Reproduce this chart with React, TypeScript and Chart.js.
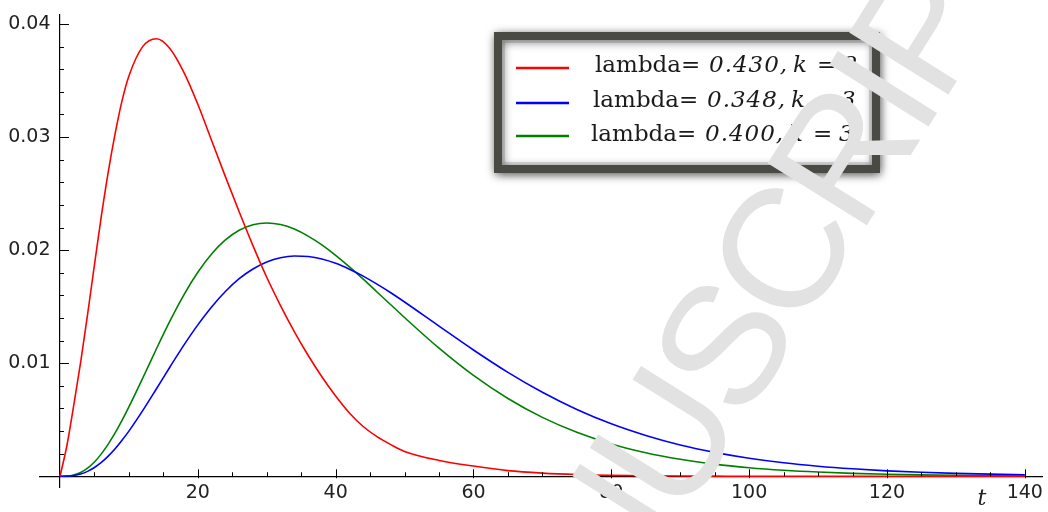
import { useEffect, useRef } from 'react';
import { Chart, registerables } from 'chart.js';

Chart.register(...registerables);

// time axis samples
const tValues = [0, 1, 2, 3, 4, 5, 6, 7, 8, 9, 10, 12, 14, 16, 18, 20, 22, 24, 26, 28, 30, 32, 34, 36, 38, 40, 42, 44, 46, 48, 50, 55, 60, 65, 70, 75, 80, 85, 90, 95, 100, 105, 110, 115, 120, 125, 130, 135, 140];

const redValues = [0, 0.0027, 0.0063, 0.0101, 0.0143, 0.0187, 0.023, 0.0269, 0.0303, 0.0332, 0.0354,
  0.038, 0.0387, 0.0378, 0.0357, 0.0329, 0.0297, 0.0265, 0.0234, 0.0204, 0.0176, 0.0151, 0.0128, 0.0107, 0.0088, 0.0071, 0.0056, 0.0044, 0.0035, 0.0028, 0.0022,
  0.0014, 0.0009, 0.0005, 0.00028, 0.00015, 0.00008, 0.00004, 0.00002, 0.00001, 0, 0, 0, 0, 0, 0, 0, 0, 0];

const blueValues = [0, 0.0000087, 0.000064, 0.000198, 0.000431, 0.000771, 0.00122, 0.00178, 0.00243, 0.00318, 0.00399,
  0.0058, 0.00774, 0.00971, 0.01162, 0.01339, 0.01498, 0.01634, 0.01747, 0.01833, 0.01895, 0.01933, 0.01948, 0.01943, 0.01921, 0.01883, 0.01831, 0.0177, 0.01699, 0.01623, 0.01541,
  0.01328, 0.01117, 0.00919, 0.00743, 0.00591, 0.00464, 0.00361, 0.00277, 0.00211, 0.00159, 0.00119, 0.000889, 0.000658, 0.00048, 0.000354, 0.000258, 0.000187, 0.000135];

const greenValues = [0, 0.0000151, 0.000109, 0.000333, 0.000715, 0.00126, 0.00198, 0.00284, 0.00383, 0.00494, 0.00613,
  0.00867, 0.01128, 0.01378, 0.01607, 0.01804, 0.01966, 0.0209, 0.02176, 0.02225, 0.0224, 0.02226, 0.02186, 0.02124, 0.02046, 0.01954, 0.01852, 0.01743, 0.0163, 0.01517, 0.01404,
  0.01133, 0.00892, 0.00688, 0.00521, 0.00389, 0.00286, 0.00208, 0.0015, 0.00107, 0.000757, 0.000531, 0.00037, 0.000257, 0.000177, 0.000121, 0.0000828, 0.0000562, 0.000038];

const seriesLambdas = ['0.430', '0.348', '0.400'];
const seriesKs = ['2', '3', '3'];
const seriesColors = ['#ff0000', '#0000ff', '#008000'];

const xTickLabels = [20, 40, 60, 80, 100, 120, 140];
const yTickLabels = [0.01, 0.02, 0.03, 0.04];
const xMinorStep = 5;
const yMinorStep = 0.002;
const xAxisTitle = 't';
const watermarkBefore = 'ACCEPTED MAN';
const watermarkAfter = 'USCRIPT';

const decorPlugin = {
  id: 'decor',
  afterDraw(chart: any) {
    const ctx = chart.ctx;
    const xs = chart.scales.x;
    const ys = chart.scales.y;
    const x0 = xs.getPixelForValue(0);
    const y0 = ys.getPixelForValue(0);

    // tick marks
    ctx.save();
    ctx.strokeStyle = '#000';
    ctx.lineWidth = 1;
    for (let v = xMinorStep; v <= 140 + 1e-9; v += xMinorStep) {
      const px = Math.round(xs.getPixelForValue(v)) + 0.5;
      const major = xTickLabels.includes(Math.round(v));
      ctx.beginPath();
      ctx.moveTo(px, y0 + (major ? 2 : 0));
      ctx.lineTo(px, y0 - (major ? 7 : 4));
      ctx.stroke();
    }
    for (let i = 1; i * yMinorStep <= 0.04 + 1e-9; i++) {
      const v = i * yMinorStep;
      const py = Math.round(ys.getPixelForValue(v)) + 0.5;
      const major = i % 5 === 0;
      ctx.beginPath();
      ctx.moveTo(x0, py);
      ctx.lineTo(x0 + (major ? 9 : 4), py);
      ctx.stroke();
    }
    ctx.restore();

    // axis title
    ctx.save();
    ctx.font = 'italic 22px "DejaVu Serif"';
    ctx.fillStyle = '#222';
    ctx.textAlign = 'center';
    ctx.textBaseline = 'alphabetic';
    ctx.fillText(xAxisTitle, 982, 505);
    ctx.restore();

    // legend box
    ctx.save();
    ctx.fillStyle = '#fff';
    ctx.shadowColor = 'rgba(0,0,0,0.55)';
    ctx.shadowBlur = 10;
    ctx.shadowOffsetX = 1;
    ctx.shadowOffsetY = 2;
    ctx.strokeStyle = '#4a4a45';
    ctx.lineWidth = 8;
    ctx.fillRect(498, 36, 378, 133);
    ctx.strokeRect(498, 36, 378, 133);
    ctx.restore();
    ctx.save();
    ctx.strokeStyle = 'rgba(0,0,0,0.12)';
    ctx.lineWidth = 3;
    ctx.strokeRect(503.5, 41.5, 367, 122);
    ctx.restore();

    const lineYs = [68, 103, 136];
    const textYs = [72, 107, 141];
    const textXs = [595, 593, 591];
    chart.data.datasets.forEach((ds: any, i: number) => {
      const bx = textXs[i];
      const by = textYs[i];
      ctx.save();
      ctx.strokeStyle = ds.borderColor;
      ctx.lineWidth = 2.5;
      ctx.beginPath();
      ctx.moveTo(516, lineYs[i]);
      ctx.lineTo(569, lineYs[i]);
      ctx.stroke();
      ctx.fillStyle = '#1a1a1a';
      ctx.textBaseline = 'alphabetic';
      ctx.textAlign = 'left';
      ctx.font = '23px "DejaVu Serif"';
      ctx.fillText('lambda=', bx, by);
      ctx.font = 'italic 23px "DejaVu Serif"';
      (ctx as any).letterSpacing = '1px';
      ctx.fillText(seriesLambdas[i] + ',', bx + 114, by);
      (ctx as any).letterSpacing = '0px';
      ctx.fillText('k', bx + 198, by);
      ctx.fillText('=', bx + 222, by);
      ctx.fillText(seriesKs[i], bx + 248, by);
      ctx.restore();
    });

    // watermark
    ctx.save();
    ctx.translate(682, 521);
    ctx.rotate((-58 * Math.PI) / 180);
    ctx.font = '170px "Liberation Sans"';
    (ctx as any).letterSpacing = '-8px';
    ctx.fillStyle = '#e2e2e2';
    ctx.textBaseline = 'alphabetic';
    ctx.textAlign = 'left';
    ctx.fillText(watermarkAfter, 0, 0);
    ctx.textAlign = 'right';
    ctx.fillText(watermarkBefore, 0, 0);
    ctx.restore();
  },
};

export default function App() {
  const canvasRef = useRef<HTMLCanvasElement | null>(null);

  useEffect(() => {
    document.body.style.margin = '0';
    const canvas = canvasRef.current;
    if (!canvas) return;
    const mk = (vals: number[]) => tValues.map((t, i) => ({ x: t, y: vals[i] }));
    const chart = new Chart(canvas, {
      type: 'line',
      data: {
        datasets: [
          { label: 'red', data: mk(redValues), borderColor: seriesColors[0], borderWidth: 1.6, pointRadius: 0, cubicInterpolationMode: 'monotone', fill: false },
          { label: 'blue', data: mk(blueValues), borderColor: seriesColors[1], borderWidth: 1.6, pointRadius: 0, cubicInterpolationMode: 'monotone', fill: false },
          { label: 'green', data: mk(greenValues), borderColor: seriesColors[2], borderWidth: 1.6, pointRadius: 0, cubicInterpolationMode: 'monotone', fill: false },
        ],
      },
      options: {
        responsive: false,
        animation: false,
        layout: { padding: { left: 40, right: 4, top: 5, bottom: 25 } },
        plugins: { legend: { display: false }, tooltip: { enabled: false } },
        scales: {
          x: {
            type: 'linear',
            min: -2.9,
            max: 142.6,
            position: { y: 0 } as any,
            grid: { display: false, drawTicks: false },
            border: { display: true, color: '#000', width: 1.2 },
            afterBuildTicks: (s: any) => { s.ticks = xTickLabels.map((v) => ({ value: v })); },
            ticks: { font: { family: 'DejaVu Sans', size: 19 }, color: '#222', padding: 5, maxRotation: 0, autoSkip: false, callback: (v: any) => String(v) },
          },
          y: {
            type: 'linear',
            min: -0.00095,
            max: 0.04085,
            position: { x: 0 } as any,
            grid: { display: false, drawTicks: false },
            border: { display: true, color: '#000', width: 1.2 },
            afterBuildTicks: (s: any) => { s.ticks = yTickLabels.map((v) => ({ value: v })); },
            ticks: { font: { family: 'DejaVu Sans', size: 19 }, color: '#222', autoSkip: false, callback: (v: any) => Number(v).toFixed(2) + '\u2002' },
          },
        },
      },
      plugins: [decorPlugin],
    });
    return () => chart.destroy();
  }, []);

  return (
    <div style={{ width: 1048, height: 512, position: 'relative' }}>
      <canvas ref={canvasRef} width={1048} height={512} />
    </div>
  );
}
